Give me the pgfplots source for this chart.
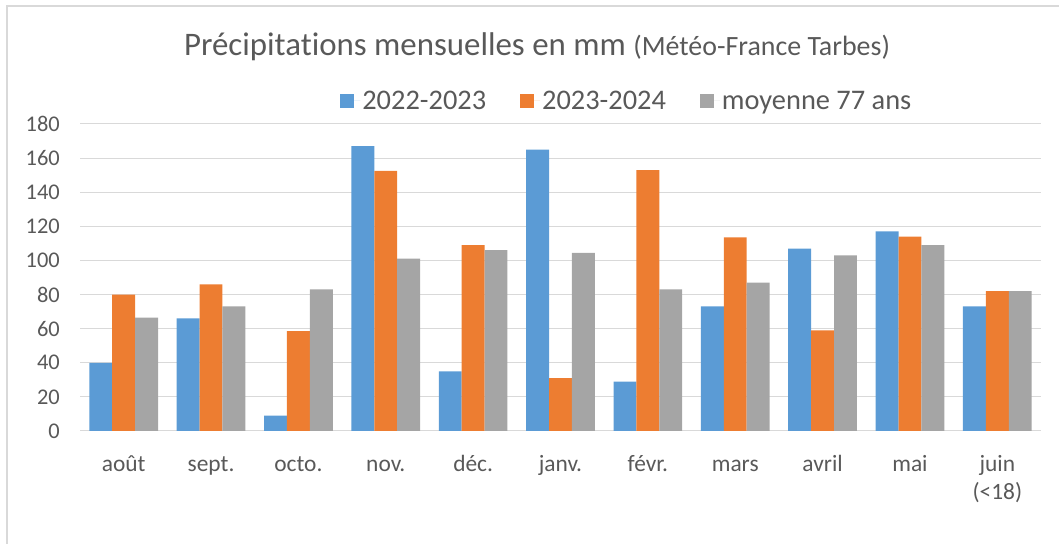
\documentclass[border=0pt]{standalone}
\usepackage{pgfplots}
\pgfplotsset{compat=1.18}
\usepackage{fontspec}
\setmainfont{Carlito}[Ligatures=NoCommon]
\definecolor{cblue}{HTML}{5B9BD5}
\definecolor{corange}{HTML}{ED7D31}
\definecolor{cgray}{HTML}{A5A5A5}
\definecolor{ctext}{HTML}{595959}
\definecolor{cgrid}{HTML}{D9D9D9}
\begin{document}
\begin{tikzpicture}
\useasboundingbox (0,0) rectangle (1059bp,544bp);
\draw[cgrid, line width=1.3bp] (7bp,0) -- (7bp,538bp) -- (1059bp,538bp);
\node[anchor=base, text=ctext, inner sep=0pt] at (537bp,488bp) {\fontsize{33}{39}\selectfont Précipitations mensuelles en mm \fontsize{28}{34}\selectfont(Météo-France Tarbes)};
\begin{axis}[
  at={(80bp,113bp)}, anchor=south west,
  width=961bp, height=307bp, scale only axis,
  xmin=-0.5, xmax=10.5, ymin=0, ymax=180,
  ybar=0pt, bar width=22.9bp,
  xtick={0,...,10},
  xticklabels={août, sept., octo., nov., déc., janv., févr., mars, avril, mai, {\begin{tabular}[t]{@{}c@{}}juin\\(<18)\end{tabular}}},
  ytick={0,20,...,180},
  ymajorgrids, grid style={cgrid, line width=1bp},
  axis line style={draw=none},
  major tick length=0pt,
  tick label style={text=ctext},
  yticklabel style={font=\fontsize{22.5}{28.5}\selectfont, anchor=east, inner sep=0pt, xshift=-20bp},
  xticklabel style={font=\fontsize{23.5}{28.5}\selectfont, anchor=base, inner sep=0pt, yshift=-40bp},
  /pgf/number format/assume math mode=true,
  legend columns=3,
  legend style={at={(0.569,1)}, anchor=south, yshift=9bp, draw=none, fill=none,
    font=\fontsize{28.5}{34}\selectfont, text=ctext,
    /tikz/every even column/.append style={column sep=32bp}},
  legend image code/.code={\fill[#1] (0bp,-7bp) rectangle (14bp,7bp); \path (0bp,0bp) -- (20bp,0bp);},
]
\addplot[fill=cblue, draw=none] coordinates {(0,40) (1,66) (2,9) (3,167) (4,35) (5,165) (6,29) (7,73) (8,107) (9,117) (10,73)};
\addplot[fill=corange, draw=none] coordinates {(0,80) (1,86) (2,58.5) (3,152.5) (4,109) (5,31) (6,153) (7,113.5) (8,59) (9,114) (10,82)};
\addplot[fill=cgray, draw=none] coordinates {(0,66.5) (1,73) (2,83) (3,101) (4,106) (5,104.5) (6,83) (7,87) (8,103) (9,109) (10,82)};
\legend{2022-2023, 2023-2024, moyenne 77 ans}
\end{axis}
\end{tikzpicture}
\end{document}
